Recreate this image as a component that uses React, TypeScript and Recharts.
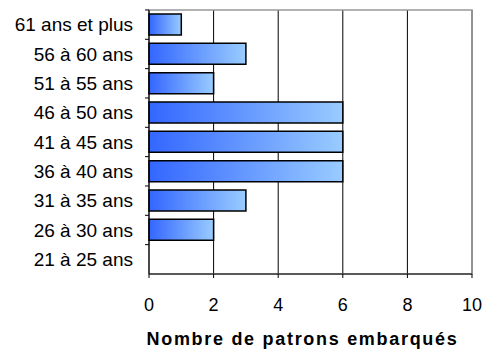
import { BarChart, Bar, XAxis, YAxis, CartesianGrid, ReferenceArea } from 'recharts';

// tranches d'âge, du bas vers le haut
const ageGroups = [
  '21 à 25 ans',
  '26 à 30 ans',
  '31 à 35 ans',
  '36 à 40 ans',
  '41 à 45 ans',
  '46 à 50 ans',
  '51 à 55 ans',
  '56 à 60 ans',
  '61 ans et plus',
];
const patrons = [0, 2, 3, 6, 6, 6, 2, 3, 1];
const xTicks = [0, 2, 4, 6, 8, 10];

const data = ageGroups.map((age, i) => ({ age, patrons: patrons[i] }));

const FONT = 'Liberation Sans, Arial, sans-serif';

const AgeTick = (props: any) => {
  const { x, y, payload } = props;
  return (
    <g>
      <line x1={x + 12} x2={x + 16} y1={y - 14.7} y2={y - 14.7} stroke="#000" />
      <text x={x} y={y} dy={6.5} textAnchor="end" fontSize={19} fontFamily={FONT} fill="#000">
        {payload.value}
      </text>
    </g>
  );
};

export default function App() {
  return (
    <div style={{ position: 'absolute', left: 0, top: 0, width: 482, height: 349, background: '#fff' }}>
      <BarChart
        width={482}
        height={349}
        data={data}
        layout="vertical"
        margin={{ top: 10, right: 10, left: 0, bottom: 0 }}
        barSize={21}
      >
        <defs>
          <linearGradient id="barGrad" x1="0" y1="0" x2="1" y2="0">
            <stop offset="0%" stopColor="#3366ff" />
            <stop offset="100%" stopColor="#99ccff" />
          </linearGradient>
        </defs>
        <CartesianGrid horizontal={false} stroke="#000" strokeWidth={1} />
        <ReferenceArea x1={0} x2={10} fill="none" stroke="#999" strokeWidth={1.5} ifOverflow="visible" />
        <XAxis
          type="number"
          domain={[0, 10]}
          ticks={xTicks}
          height={75}
          axisLine={{ stroke: '#000' }}
          tickLine={{ stroke: '#000' }}
          tickSize={4}
          tickMargin={20}
          tick={{ fontSize: 18, fontFamily: FONT, fill: '#000' }}
          label={{
            value: 'Nombre de patrons embarqués',
            position: 'insideBottom',
            offset: 4,
            dx: -8,
            style: { fontSize: 18, fontWeight: 'bold', fontFamily: FONT, fill: '#000', letterSpacing: 1.7 },
          }}
        />
        <YAxis
          type="category"
          dataKey="age"
          reversed
          width={149}
          axisLine={{ stroke: '#000' }}
          tickLine={false}
          tickSize={0}
          tickMargin={16}
          tick={<AgeTick />}
        />
        <Bar dataKey="patrons" fill="url(#barGrad)" stroke="#000" strokeWidth={1.5} isAnimationActive={false} />
      </BarChart>
    </div>
  );
}
